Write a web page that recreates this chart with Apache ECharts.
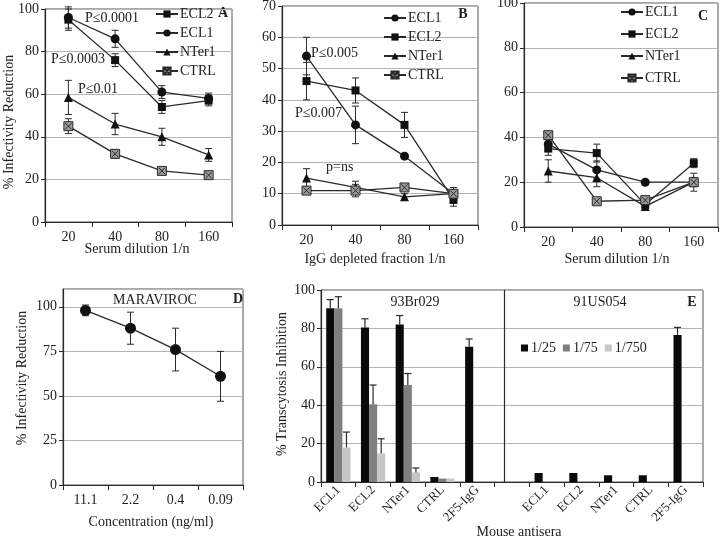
<!DOCTYPE html>
<html>
<head>
<meta charset="utf-8">
<script src="https://cdn.jsdelivr.net/npm/echarts@6/dist/echarts.min.js"></script>
<style>html,body{margin:0;padding:0;background:#fff}#c{width:720px;height:543px}</style>
</head>
<body>
<div id="c"></div>
<script>
// ---------- data ----------
const dilutions = ['20', '40', '80', '160'];
const concentrations = ['11.1', '2.2', '0.4', '0.09'];
const antisera = ['ECL1', 'ECL2', 'NTer1', 'CTRL', '2F5-IgG'];

// Panel A
const aECL2 = [95, 76, 54, 57];      const aECL2Err = [5, 3, 3, 2.5];
const aECL1 = [96, 86, 61, 58];      const aECL1Err = [5, 4, 3, 2.5];
const aNTer1 = [58.5, 46, 40, 31.5]; const aNTer1Err = [8, 5, 4, 3];
const aCTRL = [45, 32, 24, 22];      const aCTRLErr = [3.5, 2, 1.5, 1];
// Panel B
const bECL1 = [54, 32, 22, 10];      const bECL1Err = [6, 6, 0.8, 1];
const bECL2 = [46, 43, 32, 8];       const bECL2Err = [6, 4, 4, 2];
const bNTer1 = [15, 12, 9, 10];      const bNTer1Err = [3, 2, 1, 1];
const bCTRL = [11, 11, 12, 10];      const bCTRLErr = [1, 2, 1, 2];
// Panel C
const cECL1 = [37, 25.5, 20, 20];    const cECL1Err = [2, 4, 0.8, 1];
const cECL2 = [35, 33, 10, 28.5];    const cECL2Err = [3, 4, 1, 2];
const cNTer1 = [25, 22, 9.2, 20];    const cNTer1Err = [5, 4, 1, 4];
const cCTRL = [41, 11.5, 12, 20];    const cCTRLErr = [1, 1, 1, 2];
// Panel D
const maraviroc = [98, 88, 76, 61];  const maravirocErr = [3, 9, 12, 14];
// Panel E (first 5: 93Br029, gap, last 5: 91US054)
const e25 = [90.5, 80.5, 82, 2.6, 70.5, null, 4.7, 4.7, 3.5, 3.5, 76.5];
const e25Err = [4.5, 4.5, 4.7, 0, 4, null, 0, 0, 0, 0, 4];
const e75 = [90.5, 40.5, 50.5, 1.8, null, null, null, null, null, null, null];
const e75Err = [6, 10, 6, 0, null, null, null, null, null, null, null];
const e750 = [18, 15, 5, 1.8, null, null, null, null, null, null, null];
const e750Err = [8, 7.5, 2.3, 0, null, null, null, null, null, null, null];
const eAxisData = antisera.map(c => c + '|a').concat(['gap'], antisera.map(c => c + '|b'));

// ---------- helpers ----------
const serif = 'Liberation Serif';
const ink = '#2a2a2a';
const txtColor = '#222';
const ctrlSymbol = 'path://M0,0H10V10H0Z M1.5,1.5L8.5,8.5 M8.5,1.5L1.5,8.5';

function lineSeries(name, idx, data, symbol, size) {
  const isCtrl = symbol === ctrlSymbol;
  return {
    type: 'line', name, xAxisIndex: idx, yAxisIndex: idx, data, symbol, symbolSize: size,
    showSymbol: true, animation: false, z: 3,
    lineStyle: { color: ink, width: 1.3 },
    itemStyle: isCtrl ? { color: '#9a9a9a', borderColor: ink, borderWidth: 1 } : { color: '#111' }
  };
}
function errSeries(idx, values, errs) {
  return {
    type: 'custom', xAxisIndex: idx, yAxisIndex: idx, z: 2, silent: true, animation: false,
    data: values.map((v, i) => [i, v, errs[i]]),
    renderItem: (p, api) => {
      const i = api.value(0), v = api.value(1), e = api.value(2);
      if (!e) return null;
      const t = api.coord([i, v + e]), b = api.coord([i, v - e]);
      const w = 3.5, st = { stroke: ink, lineWidth: 1 };
      return { type: 'group', children: [
        { type: 'line', shape: { x1: t[0], y1: t[1], x2: b[0], y2: b[1] }, style: st },
        { type: 'line', shape: { x1: t[0] - w, y1: t[1], x2: t[0] + w, y2: t[1] }, style: st },
        { type: 'line', shape: { x1: b[0] - w, y1: b[1], x2: b[0] + w, y2: b[1] }, style: st }
      ]};
    }
  };
}
function barErrSeries(values, errs, k) {
  const d = [];
  values.forEach((v, i) => { if (v != null && errs[i]) d.push([i, v, errs[i], k]); });
  return {
    type: 'custom', xAxisIndex: 4, yAxisIndex: 4, z: 4, silent: true, animation: false, data: d,
    renderItem: (p, api) => {
      const i = api.value(0), v = api.value(1), e = api.value(2), kk = api.value(3);
      const c = api.coord([i, v]);
      const catW = api.size([1, 0])[0];
      const bw = catW * 0.7 / 3;
      const x = c[0] - catW * 0.35 + (kk + 0.5) * bw;
      const t = api.coord([i, v + e]);
      const st = { stroke: ink, lineWidth: 1.2 };
      return { type: 'group', children: [
        { type: 'line', shape: { x1: x, y1: c[1], x2: x, y2: t[1] }, style: st },
        { type: 'line', shape: { x1: x - 3.5, y1: t[1], x2: x + 3.5, y2: t[1] }, style: st }
      ]};
    }
  };
}
function catAxis(idx, data, extra) {
  return Object.assign({
    type: 'category', gridIndex: idx, data,
    axisLine: { show: true, lineStyle: { color: ink, width: 1.2 } },
    axisTick: { show: true, length: 5, lineStyle: { color: ink } },
    axisLabel: { fontFamily: serif, fontSize: 14, color: txtColor, margin: 8 },
    splitLine: { show: false }
  }, extra || {});
}
function valAxis(idx, max, interval, extra) {
  return Object.assign({
    type: 'value', gridIndex: idx, min: 0, max, interval,
    axisLine: { show: true, lineStyle: { color: ink, width: 1.2 } },
    axisTick: { show: true, length: 4, lineStyle: { color: ink } },
    axisLabel: { fontFamily: serif, fontSize: 14, color: txtColor, margin: 6 },
    splitLine: { show: true, lineStyle: { color: '#b4b4b4', width: 1 } }
  }, extra || {});
}
function text(t, x, y, opts) {
  return Object.assign({
    type: 'text', x, y, silent: true,
    style: Object.assign({ text: t, fontFamily: serif, fontSize: 14, fill: txtColor,
      textAlign: 'center', textVerticalAlign: 'middle' }, (opts && opts.style) || {})
  }, opts && opts.rotation ? { rotation: opts.rotation } : {});
}
function legendFor(names, left, top, gap) {
  return {
    data: names, orient: 'vertical', left, top, padding: 0, itemWidth: 22, itemHeight: 9, itemGap: gap,
    selectedMode: false, textStyle: { fontFamily: serif, fontSize: 14, color: txtColor, padding: [0, 0, 0, -3] }
  };
}

const gridBase = { show: true, borderColor: '#555', borderWidth: 1, backgroundColor: 'transparent', containLabel: false, outerBoundsMode: 'none' };

const option = {
  animation: false,
  backgroundColor: '#fff',
  grid: [
    Object.assign({ left: 45, top: 9, width: 187, height: 213 }, gridBase),
    Object.assign({ left: 282, top: 6, width: 196, height: 219 }, gridBase),
    Object.assign({ left: 524, top: 3, width: 194, height: 224 }, gridBase),
    Object.assign({ left: 63, top: 289, width: 180, height: 196 }, gridBase),
    Object.assign({ left: 321, top: 290, width: 382, height: 192 }, gridBase)
  ],
  xAxis: [
    catAxis(0, dilutions),
    catAxis(1, dilutions),
    catAxis(2, dilutions),
    catAxis(3, concentrations),
    catAxis(4, eAxisData, {
      axisLabel: { fontFamily: serif, fontSize: 13, color: txtColor, rotate: 45, margin: 6, interval: 0,
        formatter: v => v === 'gap' ? '' : v.split('|')[0] }
    })
  ],
  yAxis: [
    valAxis(0, 100, 20),
    valAxis(1, 70, 10),
    valAxis(2, 100, 20),
    valAxis(3, 110, 25, { axisLabel: { fontFamily: serif, fontSize: 14, color: txtColor, margin: 6, showMaxLabel: false } }),
    valAxis(4, 100, 20)
  ],
  legend: [
    legendFor(['ECL2', 'ECL1', 'NTer1', 'CTRL'], 155, 7, 5),
    legendFor(['ECL1', 'ECL2', 'NTer1', 'CTRL'], 383, 11, 5),
    legendFor(['ECL1', 'ECL2', 'NTer1', 'CTRL'], 620, 5, 8),
    {
      data: ['1/25', '1/75', '1/750'], orient: 'horizontal', left: 521, top: 341, padding: 0,
      icon: 'rect', itemWidth: 7, itemHeight: 7, itemGap: 7, selectedMode: false,
      textStyle: { fontFamily: serif, fontSize: 14, color: txtColor, padding: [0, 0, 0, -2] }
    }
  ],
  series: [
    // A
    errSeries(0, aECL2, aECL2Err), errSeries(0, aECL1, aECL1Err),
    errSeries(0, aNTer1, aNTer1Err), errSeries(0, aCTRL, aCTRLErr),
    lineSeries('ECL2', 0, aECL2, 'rect', 8),
    lineSeries('ECL1', 0, aECL1, 'circle', 9),
    lineSeries('NTer1', 0, aNTer1, 'triangle', 9),
    lineSeries('CTRL', 0, aCTRL, ctrlSymbol, 9),
    // B
    errSeries(1, bECL1, bECL1Err), errSeries(1, bECL2, bECL2Err),
    errSeries(1, bNTer1, bNTer1Err), errSeries(1, bCTRL, bCTRLErr),
    lineSeries('ECL1', 1, bECL1, 'circle', 9),
    lineSeries('ECL2', 1, bECL2, 'rect', 8),
    lineSeries('NTer1', 1, bNTer1, 'triangle', 9),
    lineSeries('CTRL', 1, bCTRL, ctrlSymbol, 9),
    // C
    errSeries(2, cECL1, cECL1Err), errSeries(2, cECL2, cECL2Err),
    errSeries(2, cNTer1, cNTer1Err), errSeries(2, cCTRL, cCTRLErr),
    lineSeries('ECL1', 2, cECL1, 'circle', 9),
    lineSeries('ECL2', 2, cECL2, 'rect', 8),
    lineSeries('NTer1', 2, cNTer1, 'triangle', 9),
    lineSeries('CTRL', 2, cCTRL, ctrlSymbol, 9),
    // D
    errSeries(3, maraviroc, maravirocErr),
    lineSeries('MARAVIROC', 3, maraviroc, 'circle', 11),
    // E
    {
      type: 'bar', name: '1/25', xAxisIndex: 4, yAxisIndex: 4, data: e25, barGap: '0%', barCategoryGap: '30%',
      itemStyle: { color: '#0a0a0a' }, z: 3,
      markLine: { silent: true, symbol: 'none', label: { show: false }, animation: false,
        lineStyle: { color: ink, width: 1.2, type: 'solid' }, data: [{ xAxis: 'gap' }] }
    },
    { type: 'bar', name: '1/75', xAxisIndex: 4, yAxisIndex: 4, data: e75, barGap: '0%', barCategoryGap: '30%', itemStyle: { color: '#7f7f7f' }, z: 3 },
    { type: 'bar', name: '1/750', xAxisIndex: 4, yAxisIndex: 4, data: e750, barGap: '0%', barCategoryGap: '30%', itemStyle: { color: '#c6c6c6' }, z: 3 },
    barErrSeries(e25, e25Err, 0), barErrSeries(e75, e75Err, 1), barErrSeries(e750, e750Err, 2)
  ],
  graphic: [
    // axis titles
    text('% Infectivity Reduction', 9, 122, { rotation: Math.PI / 2 }),
    text('Serum dilution 1/n', 137, 249),
    text('IgG depleted fraction 1/n', 375, 259),
    text('Serum dilution 1/n', 617, 259),
    text('% Infectivity Reduction', 22, 378, { rotation: Math.PI / 2 }),
    text('Concentration (ng/ml)', 151, 522),
    text('% Transcytosis Inhibition', 282, 384, { rotation: Math.PI / 2 }),
    text('Mouse antisera', 519, 532),
    // annotations
    text('P\u22640.0001', 85, 18, { style: { textAlign: 'left' } }),
    text('P\u22640.0003', 51, 59, { style: { textAlign: 'left' } }),
    text('P\u22640.01', 78, 89, { style: { textAlign: 'left' } }),
    text('P\u22640.005', 311, 53, { style: { textAlign: 'left' } }),
    text('P\u22640.007', 295, 113, { style: { textAlign: 'left' } }),
    text('p=ns', 326, 167, { style: { textAlign: 'left' } }),
    text('MARAVIROC', 155, 300),
    text('93Br029', 415, 302),
    text('91US054', 600, 302),
    // panel letters
    text('A', 223, 13, { style: { fontWeight: 'bold', fontSize: 14 } }),
    text('B', 463, 14, { style: { fontWeight: 'bold', fontSize: 14 } }),
    text('C', 703, 16, { style: { fontWeight: 'bold', fontSize: 14 } }),
    text('D', 238, 299, { style: { fontWeight: 'bold', fontSize: 14 } }),
    text('E', 692, 302, { style: { fontWeight: 'bold', fontSize: 14 } })
  ]
};

const chart = echarts.init(document.getElementById('c'), null, { renderer: 'canvas', width: 720, height: 543 });
chart.setOption(option);
</script>
</body>
</html>
